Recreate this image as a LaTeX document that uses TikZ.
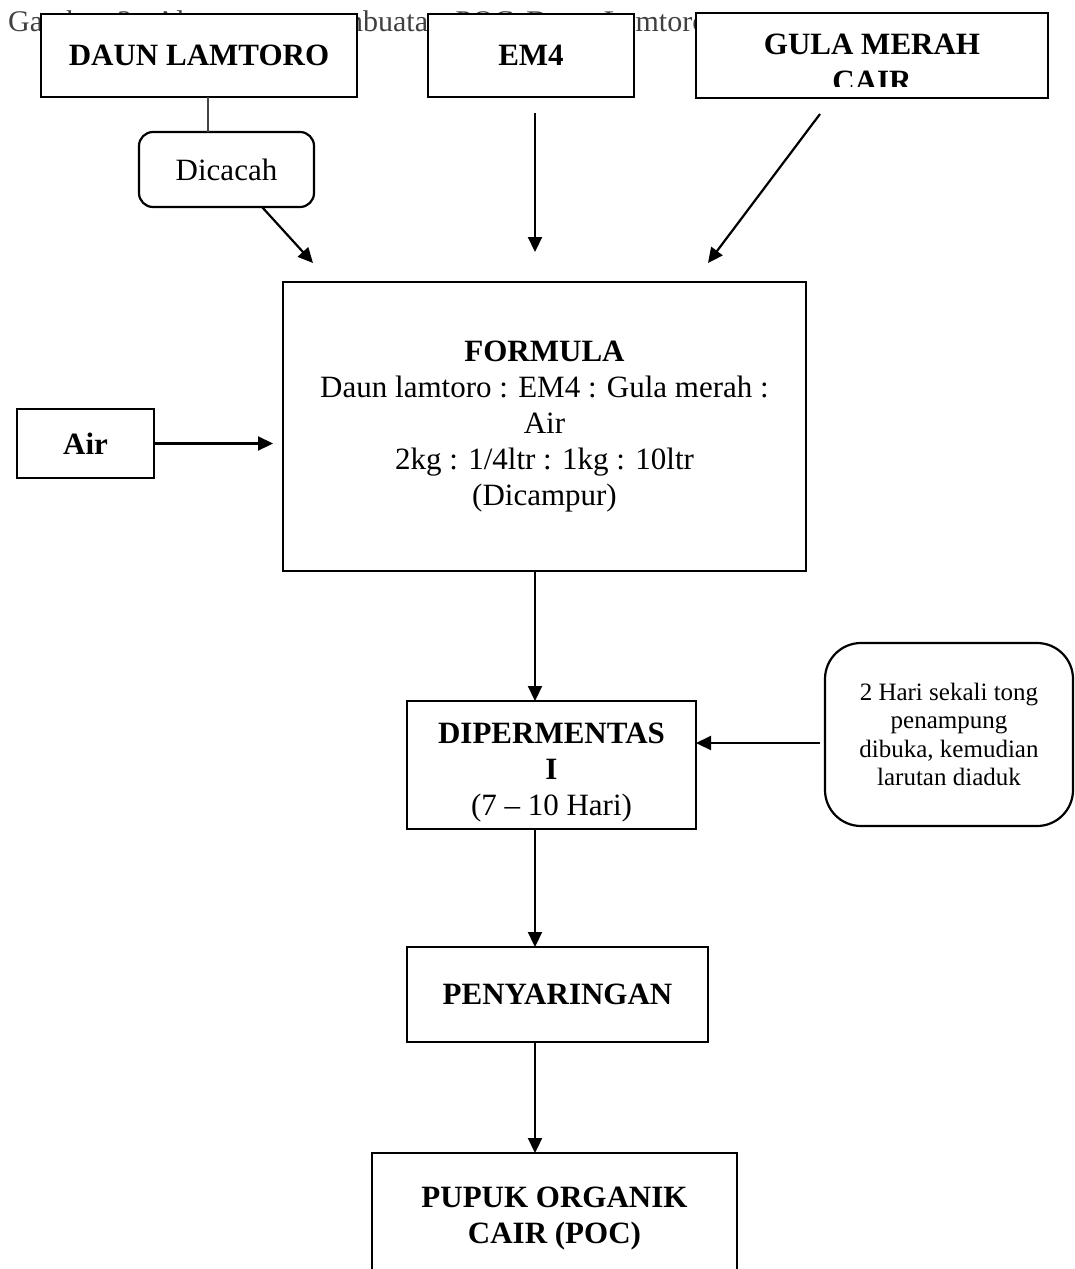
\documentclass[tikz,border=0pt]{standalone}
\usepackage{fontspec}
\setmainfont{Liberation Serif}
\usetikzlibrary{arrows.meta}
\definecolor{capgray}{HTML}{404040}
\definecolor{thingray}{HTML}{444444}
\begin{document}
\begin{tikzpicture}[x=1pt,y=-1pt,
  box/.style={draw=black,line width=2.5pt,fill=white,inner sep=0pt,outer sep=0pt,
    align=center,font=\fontsize{31}{36}\selectfont},
  rbox/.style={box,line width=2.2pt},
  arr/.style={line width=2.2pt,-{Triangle[length=15pt,width=14pt]}},
  thin/.style={line width=1.1pt,draw=thingray}
]
\useasboundingbox (0,0) rectangle (1075,1269);
\clip (0,0) rectangle (1075,1269);

% caption (partly hidden behind the boxes)
\node[anchor=base west,inner sep=0pt,text=capgray,font=\fontsize{30}{36}\selectfont]
  (cap) at (8,31) {\spaceskip=12.5pt Gambar 2. Alur proses pembuatan POC Daun Lamtoro};

% top boxes
\node[box,minimum width=316pt,minimum height=83pt] (daun) at (199,55.5) {\textbf{DAUN LAMTORO}};
\node[box,minimum width=206pt,minimum height=83pt] (em4) at (531,55.5) {\textbf{EM4}};
\node[box,minimum width=352pt,minimum height=85pt] (gula) at (872,55.5) {};
\begin{scope}
  \clip (698,15) rectangle (1046,86);
  \node[anchor=north,inner sep=0pt,align=center,font=\fontsize{31}{37}\selectfont\bfseries]
    (gulaT) at (872,34) {GULA MERAH\\CAIR};
\end{scope}

% Dicacah
\node[rbox,rounded corners=14pt,minimum width=175pt,minimum height=75pt] (dic) at (226.5,169.5) {Dicacah};

% formula
\node[box,minimum width=523pt,minimum height=289pt] (formula) at (544.5,426.5)
  {\textbf{FORMULA}\\Daun lamtoro : EM4 : Gula merah :\\Air\\2kg : 1/4ltr : 1kg : 10ltr\\(Dicampur)};

% air
\node[box,minimum width=137pt,minimum height=69pt] (air) at (85.5,443.5) {\textbf{Air}};

% fermentation
\node[box,minimum width=289pt,minimum height=128pt] (dip) at (551.5,765)
  {\rule{0pt}{35pt}\textbf{DIPERMENTAS}\\\textbf{I}\\(7 \textendash{} 10 Hari)};

% note
\node[rbox,rounded corners=36pt,minimum width=248pt,minimum height=183pt,
  font=\fontsize{25}{28.5}\selectfont] (note) at (949,734.5)
  {2 Hari sekali tong\\penampung\\dibuka, kemudian\\larutan diaduk};

% filtering
\node[box,minimum width=301pt,minimum height=95pt] (saring) at (557.5,994.5) {\textbf{PENYARINGAN}};

% product
\node[box,minimum width=365pt,minimum height=132pt] (poc) at (554.5,1219)
  {\textbf{PUPUK ORGANIK}\\\textbf{CAIR (POC)}};

% coordinates for free arrow ends
\coordinate (col) at (535,0);
\coordinate (dicTip) at (313,263);
\coordinate (em4Start) at (535,113);
\coordinate (em4Tip) at (535,252);
\coordinate (gulaStart) at (820,114);
\coordinate (gulaTip) at (708,263);
\coordinate (airTip) at (273,443.5);
\coordinate (noteStart) at (820,743);

% connectors
\draw[thin] ([xshift=9pt]daun.south) -- ([xshift=9pt]daun.south |- dic.north);
\draw[arr] ([xshift=35.5pt]dic.south) -- (dicTip);
\draw[arr] (em4Start) -- (em4Tip);
\draw[arr] (gulaStart) -- (gulaTip);
\draw[arr] (air.east) -- (airTip);
\draw[arr] (formula.south -| col) -- (dip.north -| col);
\draw[arr] (noteStart) -- (noteStart -| dip.east);
\draw[arr] (dip.south -| col) -- (saring.north -| col);
\draw[arr] (saring.south -| col) -- (poc.north -| col);
\end{tikzpicture}
\end{document}
